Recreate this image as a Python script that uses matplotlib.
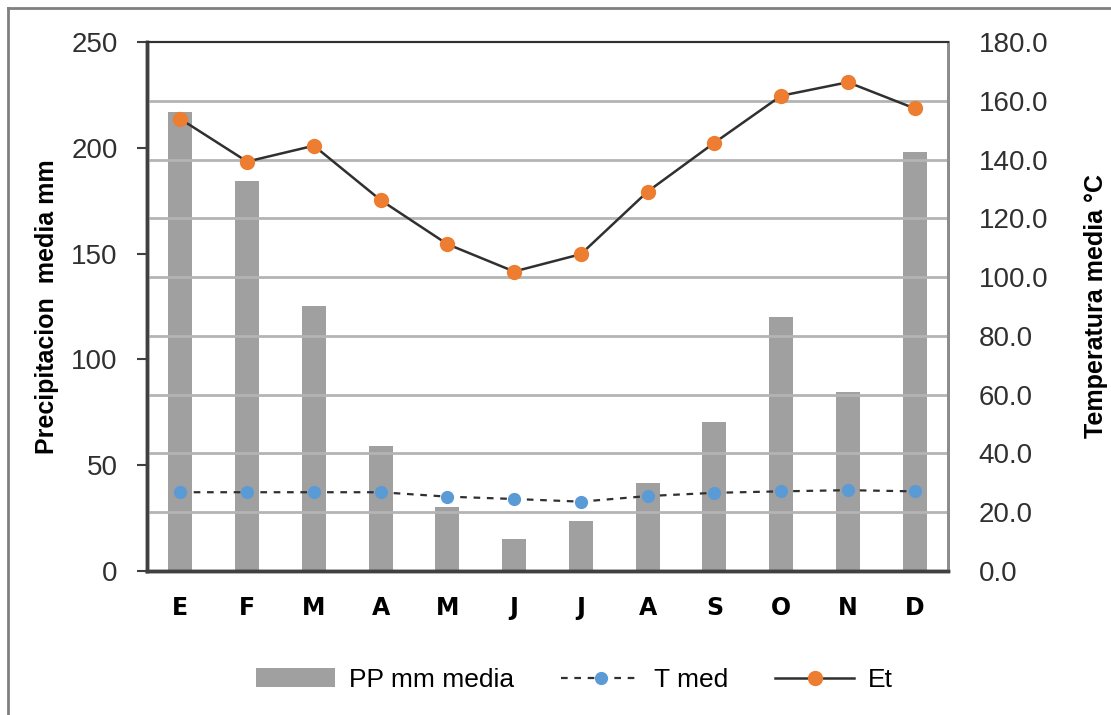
import matplotlib
matplotlib.use("Agg")
import matplotlib.pyplot as plt
from matplotlib.lines import Line2D
import numpy as np

# monthly climate data
months = ['E', 'F', 'M', 'A', 'M', 'J', 'J', 'A', 'S', 'O', 'N', 'D']
pp_mm = [216.9, 184.3, 125.2, 59.2, 30.4, 15.1, 23.6, 41.4, 70.5, 120.2, 84.4, 198.0]
t_med = [26.8, 26.8, 26.8, 26.8, 25.3, 24.5, 23.6, 25.5, 26.6, 27.1, 27.5, 27.1]
et = [153.8, 139.3, 144.7, 126.2, 111.2, 101.9, 107.8, 129.1, 145.7, 161.7, 166.3, 157.4]

plt.rcParams['font.family'] = ['Liberation Sans', 'DejaVu Sans']

fig = plt.figure(figsize=(11.11, 7.15), dpi=100)
ax = fig.add_axes([0.1323, 0.2014, 0.721, 0.7399])
ax2 = ax.twinx()

x = np.arange(len(months))

# gridlines belong to the right (temperature) axis
ax2.set_ylim(0, 180)
ax2.set_yticks(np.arange(0, 181, 20))
ax2.set_yticklabels([f'{v:.1f}' for v in np.arange(0, 181, 20)], fontsize=20, color='#303030')
for v in np.arange(20, 180, 20):
    ax2.axhline(v, color='#b4b4b4', lw=2, zorder=0)

ax.set_zorder(0)
ax2.set_zorder(1)
ax.patch.set_visible(False)
ax2.patch.set_visible(False)

bars = ax.bar(x, pp_mm, width=0.36, color='#a0a0a0', zorder=2, label='PP mm media')
ax.set_ylim(0, 250)
ax.set_xlim(-0.5, 11.5)
ax.set_yticks(np.arange(0, 251, 50))
ax.tick_params(axis='y', labelsize=20, labelcolor='#303030', length=7, width=1.5,
               color='#404040', pad=14)
ax.set_xticks(x)
ax.set_xticklabels(months, fontsize=17, fontweight='heavy', family='DejaVu Sans')
ax.tick_params(axis='x', length=0, pad=18)

ln_t, = ax2.plot(x, t_med, color='#303030', ls=(0, (3, 3)), lw=1.6, marker='o',
                 markersize=8.5, markerfacecolor='#5b9bd5', markeredgecolor='#5b9bd5',
                 label='T med', zorder=3)
ln_e, = ax2.plot(x, et, color='#303030', lw=1.8, marker='o', markersize=10,
                 markerfacecolor='#ed7d31', markeredgecolor='#ed7d31',
                 label='Et', zorder=4)
ax2.tick_params(axis='y', length=0, pad=22)

ax.set_ylabel('Precipitacion  media mm', fontsize=18, fontweight='bold', labelpad=9)
ax2.set_ylabel('Temperatura media °C', fontsize=18, fontweight='bold', labelpad=26,
               rotation=90)

for a in (ax, ax2):
    a.spines['top'].set_color('#303030')
    a.spines['top'].set_linewidth(1.5)
    a.spines['bottom'].set_color('#404040')
    a.spines['bottom'].set_linewidth(2.5)
    a.spines['left'].set_color('#404040')
    a.spines['left'].set_linewidth(2.5)
    a.spines['right'].set_color('#8c8c8c')
    a.spines['right'].set_linewidth(2)

fig.legend([bars, ln_t, ln_e], ['PP mm media', 'T med', 'Et'],
           loc='center', bbox_to_anchor=(0.517, 0.049), ncol=3, frameon=False,
           fontsize=19, handlelength=3.0, columnspacing=1.8, handletextpad=0.5)

# frame lines at top and left of the picture
fig.add_artist(Line2D([0.007, 0.007], [0.0, 0.989], color='#808080', lw=2))
fig.add_artist(Line2D([0.007, 1.0], [0.989, 0.989], color='#808080', lw=2))

fig.savefig('out.png', dpi=100)
